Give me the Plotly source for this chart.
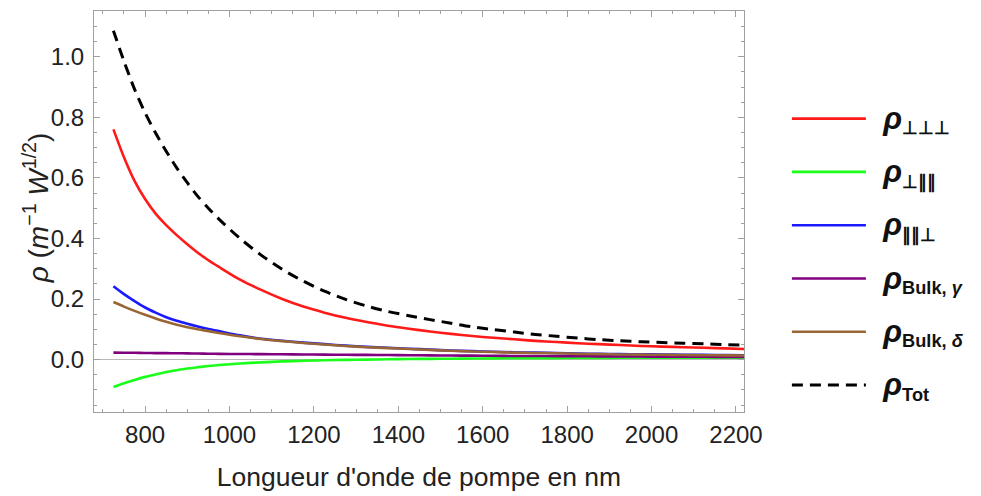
import plotly.graph_objects as go

wavelength = [725, 750, 775, 800, 825, 850, 875, 900, 925, 950, 975, 1025, 1075, 1125, 1175,
              1225, 1275, 1325, 1375, 1425, 1475, 1525, 1575, 1625, 1675, 1725, 1775, 1825,
              1875, 1925, 1975, 2025, 2075, 2125, 2175, 2225]

rho_perp_perp_perp = [0.760, 0.668, 0.590, 0.530, 0.482, 0.444, 0.411, 0.381, 0.353, 0.328, 0.306,
                      0.264, 0.230, 0.200, 0.175, 0.155, 0.138, 0.124, 0.112, 0.102, 0.093,
                      0.085, 0.078, 0.072, 0.067, 0.062, 0.058, 0.054, 0.051, 0.048, 0.045,
                      0.043, 0.041, 0.039, 0.037, 0.035]
rho_perp_par_par = [-0.0905, -0.078, -0.067, -0.057, -0.049, -0.041, -0.035, -0.0295, -0.025, -0.0213,
                    -0.018, -0.013, -0.009, -0.006, -0.004, -0.002, -0.001, 0.000, 0.001, 0.002,
                    0.0025, 0.003, 0.0035, 0.004, 0.0045, 0.005, 0.005, 0.0055, 0.0055, 0.006,
                    0.006, 0.006, 0.0065, 0.0065, 0.0065, 0.0065]
rho_par_par_perp = [0.242, 0.216, 0.193, 0.172, 0.155, 0.140, 0.128, 0.118, 0.109, 0.101, 0.094,
                    0.080, 0.069, 0.062, 0.056, 0.051, 0.046, 0.042, 0.039, 0.036, 0.033,
                    0.030, 0.028, 0.026, 0.024, 0.023, 0.022, 0.020, 0.019, 0.018, 0.0175,
                    0.017, 0.016, 0.0155, 0.015, 0.0145]
rho_bulk_gamma = [0.023, 0.0228, 0.0225, 0.022, 0.0215, 0.0213, 0.021, 0.0205, 0.020, 0.0195, 0.019,
                  0.0185, 0.018, 0.0175, 0.017, 0.0165, 0.016, 0.0155, 0.015, 0.0145, 0.014,
                  0.0135, 0.013, 0.0125, 0.012, 0.0118, 0.0115, 0.011, 0.0107, 0.0104, 0.010,
                  0.0098, 0.0095, 0.0093, 0.009, 0.009]
rho_bulk_delta = [0.190, 0.175, 0.161, 0.148, 0.136, 0.125, 0.115, 0.107, 0.100, 0.094, 0.088,
                  0.077, 0.068, 0.061, 0.055, 0.050, 0.045, 0.041, 0.038, 0.035, 0.032,
                  0.029, 0.027, 0.025, 0.023, 0.022, 0.021, 0.019, 0.018, 0.017, 0.0165,
                  0.016, 0.015, 0.0145, 0.014, 0.0135]
rho_tot = [1.086, 0.985, 0.893, 0.815, 0.748, 0.688, 0.633, 0.584, 0.539, 0.500, 0.464,
           0.400, 0.345, 0.298, 0.259, 0.226, 0.199, 0.177, 0.159, 0.145, 0.132,
           0.120, 0.108, 0.099, 0.091, 0.083, 0.077, 0.071, 0.066, 0.062, 0.059,
           0.0565, 0.054, 0.052, 0.0495, 0.047]

x_ticks = [800, 1000, 1200, 1400, 1600, 1800, 2000, 2200]
y_ticks = [0.0, 0.2, 0.4, 0.6, 0.8, 1.0]
y_ticklabels = ["0.0", "0.2", "0.4", "0.6", "0.8", "1.0"]
x_title = "Longueur d'onde de pompe en nm"
y_title = "<i>ρ</i> (<i>m</i><sup>−1</sup> <i>W</i><sup>1/2</sup>)"

RHO = "\u00a0\u2009<span style='font-size:31px'><b><i>ρ</i></b></span>"
series = [
    (RHO + "<sub><b>⊥⊥⊥</b></sub>", rho_perp_perp_perp, "#ff1a1a", "solid"),
    (RHO + "<sub><b>⊥∥∥</b></sub>", rho_perp_par_par, "#1aff1a", "solid"),
    (RHO + "<sub><b>∥∥⊥</b></sub>", rho_par_par_perp, "#1a1aff", "solid"),
    (RHO + "<sub><b>Bulk, <i>γ</i></b></sub>", rho_bulk_gamma, "#800080", "solid"),
    (RHO + "<sub><b>Bulk, <i>δ</i></b></sub>", rho_bulk_delta, "#996633", "solid"),
    (RHO + "<sub><b>Tot</b></sub>", rho_tot, "#000000", "11px,7px"),
]

fig = go.Figure()
for i, (name, vals, color, dash) in enumerate(series):
    fig.add_trace(go.Scatter(
        x=wavelength, y=vals, mode="lines", name=name,
        legendgroup=f"g{i}",
        line=dict(color=color, width=3 if dash != "solid" else 2.6, dash=dash,
                  shape="spline", smoothing=0.8),
    ))

frame = "#a0a0a0"
# the page body adds an 8px offset; the figure size/margins compensate for it
fig.update_layout(
    width=973, height=488,
    margin=dict(l=86, r=237, t=3, b=84),
    paper_bgcolor="white", plot_bgcolor="white",
    font=dict(family="Liberation Sans, Arial, sans-serif", color="#222"),
    showlegend=True,
    legend=dict(
        x=1.066, xanchor="left", y=0.79, yanchor="top",
        font=dict(size=26, color="#111"),
        itemwidth=74, tracegroupgap=16.5,
        bgcolor="rgba(0,0,0,0)",
    ),
    xaxis=dict(
        range=[679, 2219], tickvals=x_ticks, automargin=False,
        ticks="inside", ticklen=6, tickcolor=frame, tickwidth=1,
        minor=dict(dtick=50, tick0=0, ticks="inside", ticklen=3, tickcolor=frame),
        showline=True, linecolor=frame, linewidth=1, mirror="allticks",
        showgrid=False, zeroline=False,
        tickfont=dict(size=24, color="#222"),
        title=dict(text=x_title, font=dict(size=26.5, color="#222"), standoff=20),
        ticklabelstandoff=1,
    ),
    yaxis=dict(
        range=[-0.173, 1.151], tickvals=y_ticks, ticktext=y_ticklabels, automargin=False,
        ticks="inside", ticklen=6, tickcolor=frame, tickwidth=1,
        minor=dict(dtick=0.05, tick0=0, ticks="inside", ticklen=3, tickcolor=frame),
        showline=True, linecolor=frame, linewidth=1, mirror="allticks",
        showgrid=False, zeroline=True, zerolinecolor="#b8b8b8", zerolinewidth=1,
        tickfont=dict(size=24, color="#222"),
        ticklabelstandoff=4,
    ),
    annotations=[dict(
        text=y_title, textangle=-90, showarrow=False,
        xref="paper", yref="paper", x=-0.088, y=0.51,
        xanchor="center", yanchor="middle",
        font=dict(size=28, color="#222"),
    )],
)

fig.write_html("out.html")
